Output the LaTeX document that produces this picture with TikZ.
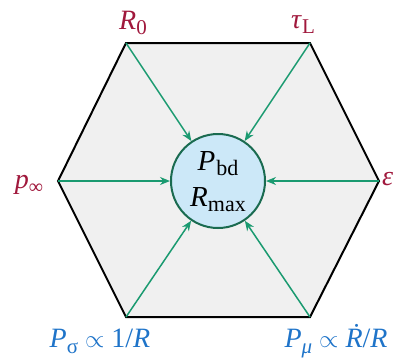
\documentclass[tikz,border=0pt]{standalone}
\usepackage{fontspec}
\setmainfont{Liberation Serif}
\usetikzlibrary{arrows.meta}
\definecolor{hexfill}{HTML}{F0F0F0}
\definecolor{arrgreen}{HTML}{1A9A70}
\definecolor{circborder}{HTML}{1A6B50}
\definecolor{circfill}{HTML}{CCE8F8}
\definecolor{labred}{HTML}{A0183C}
\definecolor{labblue}{HTML}{1F74C9}
\begin{document}
\begin{tikzpicture}[x=1pt,y=-1pt,
  infl/.style={-{Stealth[length=10pt,width=8pt]}, draw=arrgreen, line width=1.5pt},
  redlab/.style={text=labred, font=\fontsize{28}{30}\selectfont, inner sep=0pt},
  bluelab/.style={text=labblue, font=\fontsize{28}{30}\selectfont, inner sep=0pt}]
\useasboundingbox (0,0) rectangle (395,362);
\coordinate (v1) at (126,43);
\coordinate (v2) at (310,43);
\coordinate (v3) at (379,181);
\coordinate (v4) at (310,317);
\coordinate (v5) at (126,317);
\coordinate (v6) at (58,181);
\draw[line width=2pt, fill=hexfill, line join=miter] (v1) -- (v2) -- (v3) -- (v4) -- (v5) -- (v6) -- cycle;
\node[circle, draw=circborder, fill=circfill, line width=2pt, minimum size=94pt, inner sep=0pt] (c) at (218,181) {};
\node[font=\fontsize{29}{30}\selectfont, align=center, inner sep=0pt] (t) at (218,182)
  {\textit{P}\kern1pt\raisebox{-5pt}{\fontsize{22}{22}\selectfont bd}\\[6pt]\textit{R}\raisebox{-5pt}{\fontsize{22}{22}\selectfont max}};
\foreach \v in {v1,v2,v3,v4,v5,v6} \draw[infl] (\v) -- (c);
\node[redlab] (l1) at (133,23) {\textit{R}\raisebox{-5pt}{\fontsize{21}{21}\selectfont 0}};
\node[redlab] (l2) at (303,25) {\textit{τ}\raisebox{-5pt}{\fontsize{21}{21}\selectfont L}};
\node[redlab] (l6) at (29,185) {\textit{p}\raisebox{-5pt}{\fontsize{20}{20}\selectfont ∞}};
\node[redlab, anchor=west] (l3) at (382,179) {\textit{ε}};
\node[bluelab] (l5) at (100,341) {\textit{P}\raisebox{-6pt}{\fontsize{21}{21}\selectfont σ} $\propto$ 1/\textit{R}};
\node[bluelab] (l4) at (336,341) {\textit{P}\raisebox{-6pt}{\fontsize{21}{21}\selectfont \textit{μ}} $\propto$ \textit{Ṙ}/\textit{R}};
\end{tikzpicture}
\end{document}
